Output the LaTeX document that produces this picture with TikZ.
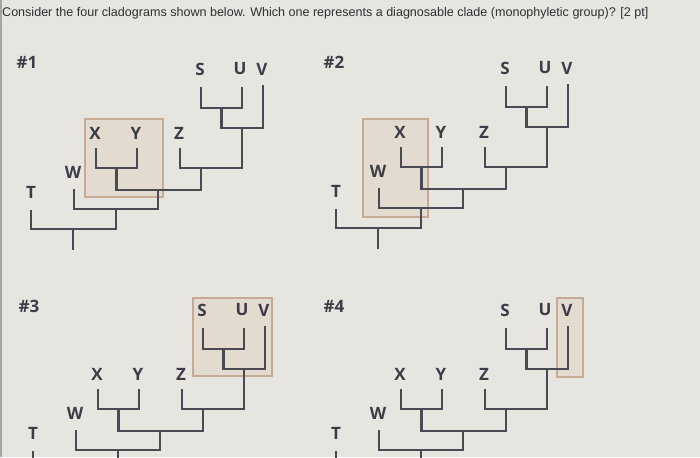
\documentclass[tikz,border=0pt]{standalone}
\usepackage{fontspec}
\setmainfont{Liberation Sans}
\newfontfamily\labfont{Open Sans}
\definecolor{bgc}{HTML}{E7E5E0}
\definecolor{linec}{HTML}{4A4A55}
\definecolor{labc}{HTML}{3C3C46}
\definecolor{boxfill}{HTML}{E0D3C3}
\definecolor{boxdraw}{HTML}{C6AA94}
\definecolor{titlec}{HTML}{2E2E33}
\tikzset{
  branch/.style={draw=linec, line width=2.1pt, line join=miter},
  taxon/.style={font=\labfont\bfseries\fontsize{17}{17}\selectfont, text=labc, inner sep=0pt},
  hashlab/.style={font=\labfont\bfseries\fontsize{17}{17}\selectfont, text=labc, inner sep=0pt},
  cladebox/.style={draw=boxdraw, fill=boxfill, fill opacity=0.55, line width=1.1pt}
}
\newcommand\clado[1]{%
  \node[taxon] (#1S) at (169,69) {S};
  \node[taxon] (#1U) at (209,69) {U};
  \node[taxon] (#1V) at (231,69) {V};
  \node[taxon] (#1X) at (64,133) {X};
  \node[taxon] (#1Y) at (105,133) {Y};
  \node[taxon] (#1Z) at (148,133) {Z};
  \node[taxon] (#1W) at (42,172) {W};
  \node[taxon] (#1T) at (0,192) {T};
  \coordinate (#1s) at (170,87);
  \coordinate (#1u) at (211,87);
  \coordinate (#1v) at (232,85);
  \coordinate (#1x) at (65,148);
  \coordinate (#1y) at (106,148);
  \coordinate (#1z) at (149,148);
  \coordinate (#1w) at (43,189);
  \coordinate (#1t) at (0,210);
  \coordinate (#1su) at (190.5,108);
  \coordinate (#1suv) at (211,128);
  \coordinate (#1xy) at (85.5,168);
  \coordinate (#1zsuv) at (170,168);
  \coordinate (#1mid) at (127,190);
  \coordinate (#1wm) at (85,209);
  \coordinate (#1root) at (42,229);
  \coordinate (#1base) at (42,250);
  \draw[branch] (#1s) |- (#1su) -| (#1u);
  \draw[branch] (#1su) |- (#1suv) -| (#1v);
  \draw[branch] (#1suv) |- (#1zsuv) -| (#1z);
  \draw[branch] (#1x) |- (#1xy) -| (#1y);
  \draw[branch] (#1xy) |- (#1mid) -| (#1zsuv);
  \draw[branch] (#1w) |- (#1wm) -| (#1mid);
  \draw[branch] (#1t) |- (#1root) -| (#1wm);
  \draw[branch] (#1root) -- (#1base);
}
\begin{document}
\begin{tikzpicture}[x=1pt,y=-1pt]
\useasboundingbox (0,0) rectangle (700,457);
\clip (0,0) rectangle (700,457);
\fill[bgc] (0,0) rectangle (700,457);
\fill[gray!70] (0,0) rectangle (1.6,457);
\node[anchor=west, inner sep=0pt, text=titlec, font=\fontsize{12.55}{12.55}\selectfont] (title) at (2,13) {Consider the four cladograms shown below. Which one represents a diagnosable clade (monophyletic group)? [2 pt]};
% clade boxes
\draw[cladebox] (85,119) rectangle (163,197);
\draw[cladebox] (363,119) rectangle (428,217);
\draw[cladebox] (193,298) rectangle (272,376);
\draw[cladebox] (557,298) rectangle (583,377);
% labels
\node[hashlab] (h1) at (27,62) {\#1};
\node[hashlab] (h2) at (334,62) {\#2};
\node[hashlab] (h3) at (29,306) {\#3};
\node[hashlab] (h4) at (334,306) {\#4};
\begin{scope}[shift={(31,0)}] \clado{a} \end{scope}
\begin{scope}[shift={(336,-1)}] \clado{b} \end{scope}
\begin{scope}[shift={(33,241)}] \clado{c} \end{scope}
\begin{scope}[shift={(336,241)}] \clado{d} \end{scope}
\end{tikzpicture}
\end{document}
